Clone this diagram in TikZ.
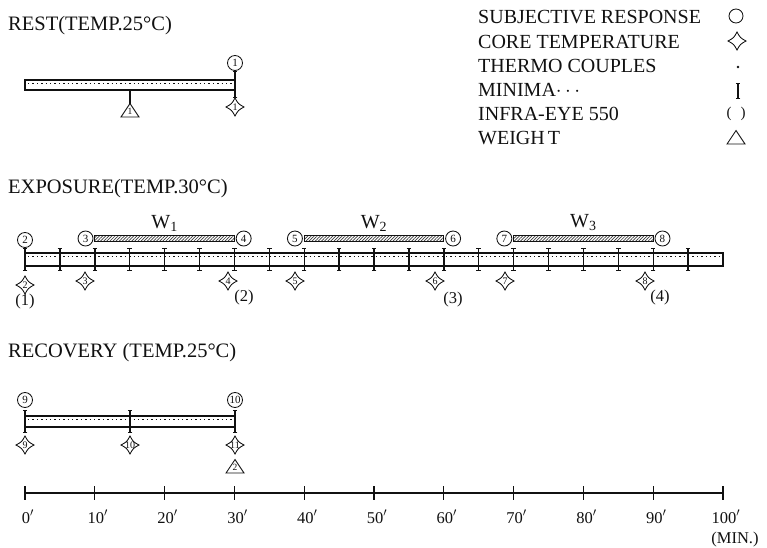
\documentclass[tikz,border=0pt]{standalone}
\usepackage{fontspec}
\setmainfont{Liberation Serif}
\usepackage{xcolor}
\usepackage{tikz}
\usetikzlibrary{arrows.meta, positioning, patterns.meta}
\definecolor{inkblack}{HTML}{111111}
\definecolor{hatchgray}{HTML}{3A3A3A}

\begin{document}
\begin{tikzpicture}[
    x=1pt, y=-1pt,
    inkblack,
    title/.style={anchor=base west, inner sep=0pt, font=\fontsize{20.5}{20.5}\selectfont},
    legend/.style={anchor=base west, inner sep=0pt, font=\fontsize{20}{20}\selectfont},
    subj/.style={circle, draw, fill=white, line width=0.85pt, inner sep=0pt,
                 minimum size=15pt, font=\fontsize{11}{11}\selectfont},
    core/.style={inner sep=0pt, minimum size=18pt, font=\fontsize{10}{10}\selectfont},
    weight/.style={inner sep=0pt, minimum width=18pt, minimum height=14pt,
                   font=\fontsize{9.5}{9.5}\selectfont},
    corestar/.pic={\draw[line width=0.85pt]
        (0,-9) .. controls (3.2,-3.2) .. (9,0) .. controls (3.2,3.2) .. (0,9)
        .. controls (-3.2,3.2) .. (-9,0) .. controls (-3.2,-3.2) .. (0,-9) -- cycle;},
    weighttri/.pic={\draw[line width=0.85pt, line join=miter] (-9,6) -- (9,6) -- (0,-7.5) -- cycle;},
    hatchbar/.style={rectangle, draw, line width=0.7pt, inner sep=0pt, minimum height=6pt,
                     pattern={Lines[angle=45, distance=2.2pt, line width=0.7pt]},
                     pattern color=hatchgray},
    wlabel/.style={inner sep=0pt, font=\fontsize{20}{20}\selectfont},
    infra/.style={inner sep=0pt, font=\fontsize{16.5}{16.5}\selectfont},
    minlabel/.style={anchor=base, inner sep=0pt, font=\fontsize{16.5}{16.5}\selectfont},
    bar/.style={draw, line width=1.2pt},
    thermo/.style={line width=0.9pt, dash pattern=on 1.4pt off 3pt},
    minima/.style={line width=1.4pt, {Bar[width=4.5pt, line width=1.1pt]}-{Bar[width=4.5pt, line width=1.1pt]}},
    axis/.style={line width=1.3pt}
]
\useasboundingbox[fill=white] (0,0) rectangle (767,547);

% Legend
\node[legend] at (478,23) (tsubj) {SUBJECTIVE RESPONSE};
\node[legend] at (478,48) (tcore) {CORE TEMPERATURE};
\node[legend] at (478,72) (tthermo) {THERMO COUPLES};
\node[legend] at (478,96) (tminima) {MINIMA$\cdots$};
\node[legend] at (478,120) (tinfra) {INFRA-EYE 550};
\node[legend] at (478,144) (tweight) {WEIGH\kern3pt T};

\node[subj, minimum size=14pt] at (736,16) (lsubj) {};
\node[core] at (737,41) (lcore) {};
\pic at (lcore) {corestar};
\node[circle, fill, inner sep=0pt, minimum size=2.8pt] at (738,67) (lthermo) {};
\coordinate (lmintop) at (738,83);
\coordinate (lminbot) at (738,99);
\draw[minima] (lmintop) -- (lminbot);
\node[infra, font=\fontsize{15}{15}\selectfont] at (736,114) (linfra) {(\hspace{9pt})};
\node[weight] at (736,138) (lweight) {};
\pic at (lweight) {weighttri};

% Rest
\node[title] at (8,30) (rest) {REST(TEMP.25°C)};
\draw[bar] (25,80) rectangle (235,90);
\draw[thermo] (28,83) -- (233,83);
\node[subj] at (235,63) (s1) {1};
\node[core] at (235,107) (c1) {1};
\draw[minima] (s1) -- (c1);
\node[weight] at (130,111) (g1) {1};
\coordinate (g1top) at (130,90);
\draw[line width=1.1pt] (g1top) -- (g1);

% Exposure
\node[title] at (8,193) (expo) {EXPOSURE(TEMP.30°C)};
\draw[bar] (25,253) rectangle (723,266);
\draw[thermo] (28,256.5) -- (720,256.5);
\foreach \m in {0,5,...,95}
    \draw[minima] ({25+6.98*\m},248) -- ({25+6.98*\m},271);

\node[hatchbar, minimum width=139.6pt] at (164.6,238.5) (w1) {};
\node[hatchbar, minimum width=139.6pt] at (374,238.5) (w2) {};
\node[hatchbar, minimum width=139.6pt] at (583.4,238.5) (w3) {};
\node[wlabel, above=3pt of w1] (lw1) {W\textsubscript{1}};
\node[wlabel, above=3pt of w2] (lw2) {W\textsubscript{2}};
\node[wlabel, above=4pt of w3] (lw3) {W\textsubscript{3}};

\node[subj] at (25,240) (s2) {2};
\node[subj, left=1pt of w1] (s3) {3};
\node[subj, right=1pt of w1] (s4) {4};
\node[subj, left=1pt of w2] (s5) {5};
\node[subj, right=1pt of w2] (s6) {6};
\node[subj, left=1pt of w3] (s7) {7};
\node[subj, right=1pt of w3] (s8) {8};

\node[core] at (25,285) (c2) {2};
\node[core] at (85,281) (c3) {3};
\node[core] at (228,281) (c4) {4};
\node[core] at (295,281) (c5) {5};
\node[core] at (435,281) (c6) {6};
\node[core] at (505,281) (c7) {7};
\node[core] at (645,281) (c8) {8};

\node[infra] at (25,302) (i1) {(1)};
\node[infra] at (244,298) (i2) {(2)};
\node[infra] at (453,300) (i3) {(3)};
\node[infra] at (660,298) (i4) {(4)};

% Recovery
\node[title] at (8,357) (reco) {RECOVERY (TEMP.25°C)};
\draw[bar] (25,416) rectangle (235,427);
\draw[thermo] (28,419.5) -- (233,419.5);
\foreach \x in {25,130,235}
    \draw[minima] (\x,410) -- (\x,433);
\node[subj] at (25,400) (s9) {9};
\node[subj] at (235,400) (s10) {10};
\node[core] at (25,445) (c9) {9};
\node[core] at (130,445) (c10) {10};
\node[core] at (235,445) (c11) {11};
\node[weight] at (235,467) (g2) {2};

% Core temperature and weight marks
\foreach \c in {c1,c2,c3,c4,c5,c6,c7,c8,c9,c10,c11}
    \pic at (\c) {corestar};
\foreach \g in {g1,g2}
    \pic at (\g) {weighttri};

% Time axis
\draw[axis] (25,493) -- (723,493);
\foreach \t in {0,10,...,100}
    \draw[axis] ({25+6.98*\t},486) -- ({25+6.98*\t},500);
\foreach \t in {0,10,...,100}
    \node[minlabel] at ({28+6.98*\t},523) (m\t) {\t$'$};
\node[minlabel] at (735,543) (unit) {(MIN.)};

\end{tikzpicture}
\end{document}
